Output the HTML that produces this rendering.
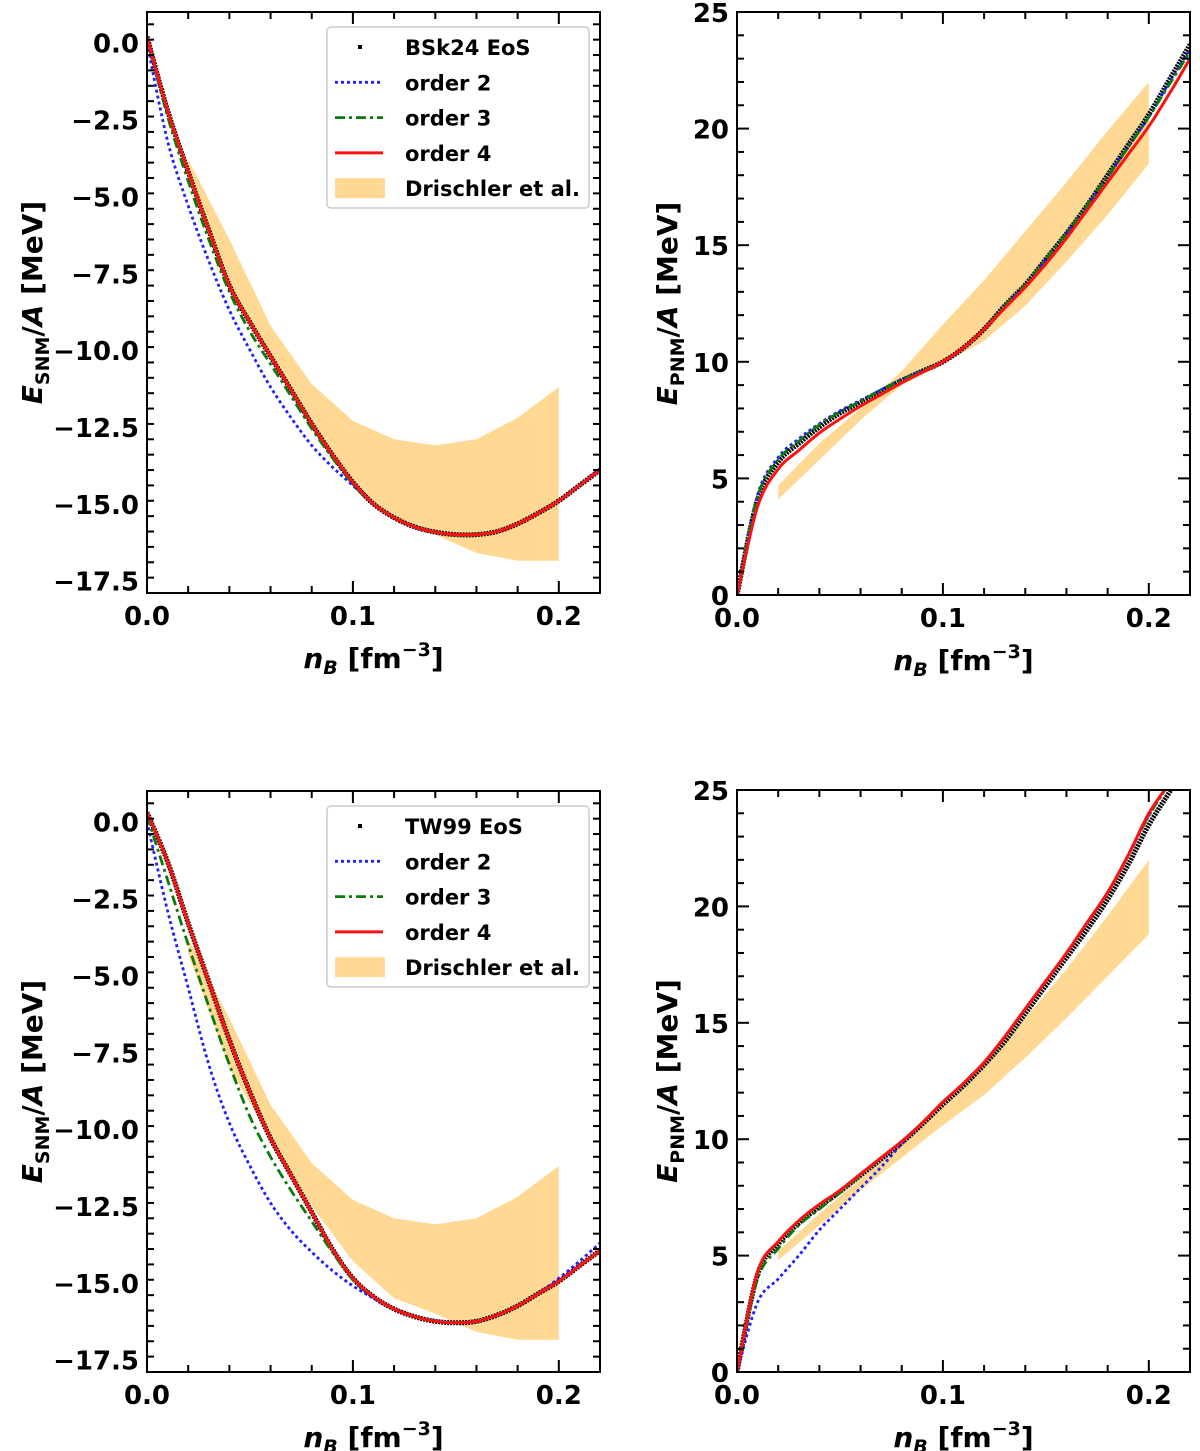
<!DOCTYPE html>
<html><head><meta charset="utf-8"><style>
body{margin:0;background:#fff;}
svg{display:block;font-family:"DejaVu Sans","Liberation Sans",sans-serif;font-weight:bold;}
</style></head><body>
<svg id="fig" width="1200" height="1451" viewBox="0 0 1200 1451" xmlns="http://www.w3.org/2000/svg"></svg>
<script>
const nGrid=[0,0.01,0.02,0.03,0.04,0.05,0.06,0.07,0.08,0.09,0.10,0.11,0.12,0.13,0.14,0.15,0.16,0.17,0.18,0.19,0.20,0.21,0.22];
// BSk24 SNM
const bskSnmEos=[0.2,-2.2,-4.2,-6.1,-7.9,-9.1,-10.2,-11.3,-12.4,-13.4,-14.3,-15.0,-15.45,-15.75,-15.92,-16.0,-16.0,-15.9,-15.65,-15.3,-14.9,-14.4,-13.9];
const bskSnmO2=[0.0,-3.2,-5.3,-7.1,-8.7,-10.0,-11.2,-12.2,-13.1,-13.8,-14.4,-15.0,-15.45,-15.76,-15.93,-16.0,-16.0,-15.9,-15.65,-15.3,-14.9,-14.4,-13.85];
const bskSnmO3=[0.2,-2.4,-4.5,-6.4,-8.1,-9.4,-10.45,-11.5,-12.55,-13.5,-14.35,-15.0,-15.45,-15.75,-15.92,-16.0,-16.0,-15.9,-15.65,-15.3,-14.9,-14.4,-13.9];
const bskSnmO4=[0.2,-2.2,-4.2,-6.1,-7.9,-9.1,-10.2,-11.3,-12.4,-13.4,-14.3,-15.0,-15.45,-15.75,-15.92,-16.0,-16.0,-15.9,-15.65,-15.3,-14.9,-14.4,-13.9];
// TW99 SNM
const twSnmEos=[0.3,-1.3,-3.3,-5.2,-7.1,-8.8,-10.3,-11.5,-12.7,-13.9,-14.85,-15.45,-15.85,-16.1,-16.25,-16.3,-16.25,-16.05,-15.75,-15.35,-14.95,-14.45,-13.95];
const twSnmO2=[0.0,-2.9,-5.4,-7.9,-9.8,-11.2,-12.4,-13.3,-14.0,-14.6,-15.1,-15.5,-15.85,-16.1,-16.25,-16.3,-16.25,-16.05,-15.75,-15.35,-14.85,-14.3,-13.7];
const twSnmO3=[0.2,-1.9,-4.0,-6.0,-7.9,-9.6,-10.9,-12.0,-13.0,-14.0,-14.9,-15.45,-15.85,-16.1,-16.25,-16.3,-16.25,-16.05,-15.75,-15.35,-14.95,-14.45,-13.95];
const twSnmO4=[0.3,-1.3,-3.3,-5.2,-7.1,-8.8,-10.3,-11.5,-12.7,-13.9,-14.85,-15.45,-15.85,-16.1,-16.25,-16.3,-16.25,-16.05,-15.75,-15.35,-14.95,-14.45,-13.95];
// BSk24 PNM
const bskPnmEos=[0.0,4.1,5.7,6.5,7.2,7.8,8.25,8.75,9.2,9.6,10.0,10.6,11.4,12.4,13.3,14.4,15.5,16.7,18.0,19.3,20.6,22.1,23.6];
const bskPnmO2=[0.0,4.3,5.9,6.7,7.35,7.9,8.35,8.8,9.25,9.6,10.0,10.6,11.4,12.4,13.3,14.4,15.5,16.7,17.95,19.25,20.5,22.0,23.4];
const bskPnmO3=[0.0,4.2,5.8,6.6,7.3,7.85,8.3,8.8,9.2,9.6,10.0,10.6,11.4,12.4,13.3,14.4,15.5,16.7,17.95,19.2,20.5,21.9,23.3];
const bskPnmO4=[0.0,3.8,5.4,6.2,6.95,7.55,8.1,8.6,9.1,9.55,10.0,10.6,11.4,12.3,13.2,14.2,15.3,16.5,17.7,18.9,20.1,21.5,23.0];
// TW99 PNM
const twPnmEos=[0.0,4.2,5.5,6.4,7.1,7.75,8.45,9.15,9.85,10.65,11.5,12.3,13.2,14.2,15.4,16.6,17.8,19.0,20.3,21.8,23.5,24.9,26.3];
const twPnmO2=[0.0,3.0,4.0,5.0,6.1,7.0,7.9,8.8,9.8,10.7,11.6,12.4,13.3,14.4,15.6,16.8,18.0,19.3,20.6,22.2,23.9,25.3,26.7];
const twPnmO3=[0.0,4.0,5.3,6.3,7.0,7.7,8.45,9.2,9.9,10.7,11.6,12.4,13.3,14.4,15.6,16.8,18.0,19.3,20.6,22.2,23.9,25.3,26.7];
const twPnmO4=[0.0,4.3,5.6,6.5,7.2,7.8,8.5,9.2,9.9,10.7,11.6,12.4,13.3,14.4,15.6,16.8,18.0,19.3,20.6,22.2,24.0,25.3,26.7];
// Drischler et al. bands
const bandN=[0.02,0.04,0.06,0.08,0.10,0.12,0.14,0.16,0.18,0.20];
const snmBandUpper=[-3.8,-6.4,-9.2,-11.1,-12.3,-12.9,-13.1,-12.9,-12.2,-11.2];
const snmBandLower=[-4.3,-8.0,-10.3,-12.5,-14.3,-15.5,-16.0,-16.6,-16.85,-16.85];
const pnmBandUpper=[4.7,6.5,8.0,9.6,11.6,13.5,15.6,17.7,19.9,22.0];
const pnmBandLower=[4.1,5.8,7.5,9.0,9.9,10.9,12.4,14.3,16.3,18.5];
const twPnmBandUpper=[5.2,6.8,8.3,9.8,11.4,13.2,15.2,17.3,19.6,22.0];
const twPnmBandLower=[4.8,6.3,7.8,9.2,10.6,11.9,13.5,15.2,17.0,18.8];
const xTicks=[0.0,0.1,0.2];
const xTickLabels=["0.0","0.1","0.2"];
const snmTicks=[0,-2.5,-5,-7.5,-10,-12.5,-15,-17.5];
const snmTickLabels=["0.0","\u22122.5","\u22125.0","\u22127.5","\u221210.0","\u221212.5","\u221215.0","\u221217.5"];
const pnmTicks=[0,5,10,15,20,25];
const pnmTickLabels=["0","5","10","15","20","25"];

const NS="http://www.w3.org/2000/svg";
const svg=document.getElementById('fig');
function mk(tag,attrs,parent){const e=document.createElementNS(NS,tag);for(const k in attrs)e.setAttribute(k,attrs[k]);(parent||svg).appendChild(e);return e;}
function smoothPath(pts){
  let d="M"+pts[0][0].toFixed(1)+","+pts[0][1].toFixed(1);
  for(let i=0;i<pts.length-1;i++){
    const p0=pts[Math.max(0,i-1)],p1=pts[i],p2=pts[i+1],p3=pts[Math.min(pts.length-1,i+2)];
    const c1=[p1[0]+(p2[0]-p0[0])/6,p1[1]+(p2[1]-p0[1])/6];
    const c2=[p2[0]-(p3[0]-p1[0])/6,p2[1]-(p3[1]-p1[1])/6];
    d+="C"+c1[0].toFixed(1)+","+c1[1].toFixed(1)+" "+c2[0].toFixed(1)+","+c2[1].toFixed(1)+" "+p2[0].toFixed(1)+","+p2[1].toFixed(1);
  }
  return d;
}
let clipId=0;
function panel(cfg){
  const g=mk('g',{});
  
  
  const L=cfg.left,R=cfg.right,T=cfg.top,B=cfg.bottom;
  const sx=v=>L+(v-0)/(0.22-0)*(R-L);
  const sy=v=>B-(v-cfg.ymin)/(cfg.ymax-cfg.ymin)*(B-T);
  const cid='clip'+(clipId++);
  const defs=mk('defs',{},g);
  const cp=mk('clipPath',{id:cid},defs);
  mk('rect',{x:L,y:T,width:R-L,height:B-T},cp);
  const plot=mk('g',{'clip-path':'url(#'+cid+')'},g);
  const up=bandN.map((n,i)=>[sx(n),sy(cfg.bandU[i])]);
  const lo=bandN.map((n,i)=>[sx(n),sy(cfg.bandL[i])]).reverse();
  let d="M"+up.map(p=>p[0].toFixed(1)+","+p[1].toFixed(1)).join("L")+"L"+lo.map(p=>p[0].toFixed(1)+","+p[1].toFixed(1)).join("L")+"Z";
  const band=mk('path',{d:d,fill:'#ffd994',stroke:'none'},plot);
  
  
  const series=[
    {v:cfg.eos,stroke:'#000',w:5,dash:'2 1',name:'eos-points'},
    {v:cfg.o2,stroke:'#1f1fff',w:2.8,dash:'3 3',name:'order-2-line'},
    {v:cfg.o3,stroke:'#0a7a0a',w:2.8,dash:'10 4 3 4',name:'order-3-line'},
    {v:cfg.o4,stroke:'#ff1010',w:3,dash:'none',name:'order-4-line'}];
  series.forEach(s=>{
    const p=mk('path',{d:smoothPath(nGrid.map((n,i)=>[sx(n),sy(s.v[i])])),fill:'none',stroke:s.stroke,'stroke-width':s.w,'stroke-dasharray':s.dash},plot);
    
    
  });
  const fr=mk('rect',{x:L,y:T,width:R-L,height:B-T,fill:'none',stroke:'#000','stroke-width':2},g);
  
  
  for(let k=0;k<=11;k++){const v=k*0.02;const x=sx(v);const maj=(k%5===0);const len=maj?12:7;
    mk('line',{x1:x,y1:B,x2:x,y2:B-len,stroke:'#000','stroke-width':2},g);
    mk('line',{x1:x,y1:T,x2:x,y2:T+len,stroke:'#000','stroke-width':2},g);}
  xTicks.forEach((v,i)=>{const t=mk('text',{x:sx(v),y:B+32,'text-anchor':'middle','font-size':26},g);t.textContent=xTickLabels[i];
    });
  for(let v=cfg.ymin;v<=cfg.ymax+1e-6;v+=cfg.minor){const vv=Math.round(v*100)/100;const y=sy(vv);
    const maj=Math.abs(vv/cfg.major-Math.round(vv/cfg.major))<1e-6;const len=maj?12:7;
    if(y<T-0.5||y>B+0.5)continue;
    mk('line',{x1:L,y1:y,x2:L+len,y2:y,stroke:'#000','stroke-width':2},g);
    mk('line',{x1:R,y1:y,x2:R-len,y2:y,stroke:'#000','stroke-width':2},g);}
  cfg.yTicks.forEach((v,i)=>{const t=mk('text',{x:L-8,y:sy(v)+10,'text-anchor':'end','font-size':26},g);t.textContent=cfg.yLabels[i];
    });
  const xt=mk('text',{x:(L+R)/2,y:B+75,'text-anchor':'middle','font-size':28},g);
  xt.innerHTML='<tspan font-style="italic">n</tspan><tspan font-style="italic" font-size="19" dy="6">B</tspan><tspan dy="-6"> [fm</tspan><tspan font-size="19" dy="-12">\u22123</tspan><tspan dy="12">]</tspan>';
  
  const yt=mk('text',{x:0,y:0,'text-anchor':'middle','font-size':28,transform:'translate('+cfg.ylabX+','+((T+B)/2)+') rotate(-90)'},g);
  yt.innerHTML='<tspan font-style="italic">E</tspan><tspan font-size="19" dy="7">'+cfg.sub+'</tspan><tspan dy="-7">/</tspan><tspan font-style="italic">A</tspan><tspan> [MeV]</tspan>';
  
  if(cfg.legend){
    const lg=mk('g',{},g);
    
    const ly=T+15;
    mk('rect',{x:327,y:ly,width:262,height:181,rx:4,fill:'#fff','fill-opacity':0.85,stroke:'#ccc','stroke-width':1.5},lg);
    const rows=[cfg.legend,'order 2','order 3','order 4','Drischler et al.'];
    rows.forEach((r,i)=>{const y=ly+20+i*35.3;
      if(i===0)mk('rect',{x:358,y:y-2,width:4,height:4,fill:'#000'},lg);
      if(i===1)mk('line',{x1:335,y1:y,x2:383,y2:y,stroke:'#1f1fff','stroke-width':2.8,'stroke-dasharray':'3 3'},lg);
      if(i===2)mk('line',{x1:335,y1:y,x2:383,y2:y,stroke:'#0a7a0a','stroke-width':2.8,'stroke-dasharray':'10 4 3 4'},lg);
      if(i===3)mk('line',{x1:335,y1:y,x2:383,y2:y,stroke:'#ff1010','stroke-width':3},lg);
      if(i===4)mk('rect',{x:335,y:y-10,width:50,height:20,fill:'#ffd994'},lg);
      const t=mk('text',{x:405,y:y+8,'font-size':21},lg);t.textContent=r;
      });
  }
}
panel({name:'bsk24-snm-panel',left:147,right:600,top:12,bottom:593,ymin:-17.9,ymax:1.0,minor:0.5,major:2.5,
  yTicks:snmTicks,yLabels:snmTickLabels,eos:bskSnmEos,o2:bskSnmO2,o3:bskSnmO3,o4:bskSnmO4,bandU:snmBandUpper,bandL:snmBandLower,
  sub:'SNM',ylabX:42,legend:'BSk24 EoS'});
panel({name:'bsk24-pnm-panel',left:737,right:1190,top:12,bottom:595,ymin:0,ymax:25,minor:1,major:5,
  yTicks:pnmTicks,yLabels:pnmTickLabels,eos:bskPnmEos,o2:bskPnmO2,o3:bskPnmO3,o4:bskPnmO4,bandU:pnmBandUpper,bandL:pnmBandLower,
  sub:'PNM',ylabX:677});
panel({name:'tw99-snm-panel',left:147,right:600,top:791,bottom:1372,ymin:-17.9,ymax:1.0,minor:0.5,major:2.5,
  yTicks:snmTicks,yLabels:snmTickLabels,eos:twSnmEos,o2:twSnmO2,o3:twSnmO3,o4:twSnmO4,bandU:snmBandUpper,bandL:snmBandLower,
  sub:'SNM',ylabX:42,legend:'TW99 EoS'});
panel({name:'tw99-pnm-panel',left:737,right:1190,top:790,bottom:1372,ymin:0,ymax:25,minor:1,major:5,
  yTicks:pnmTicks,yLabels:pnmTickLabels,eos:twPnmEos,o2:twPnmO2,o3:twPnmO3,o4:twPnmO4,bandU:twPnmBandUpper,bandL:twPnmBandLower,
  sub:'PNM',ylabX:677});
</script>
</body></html>
